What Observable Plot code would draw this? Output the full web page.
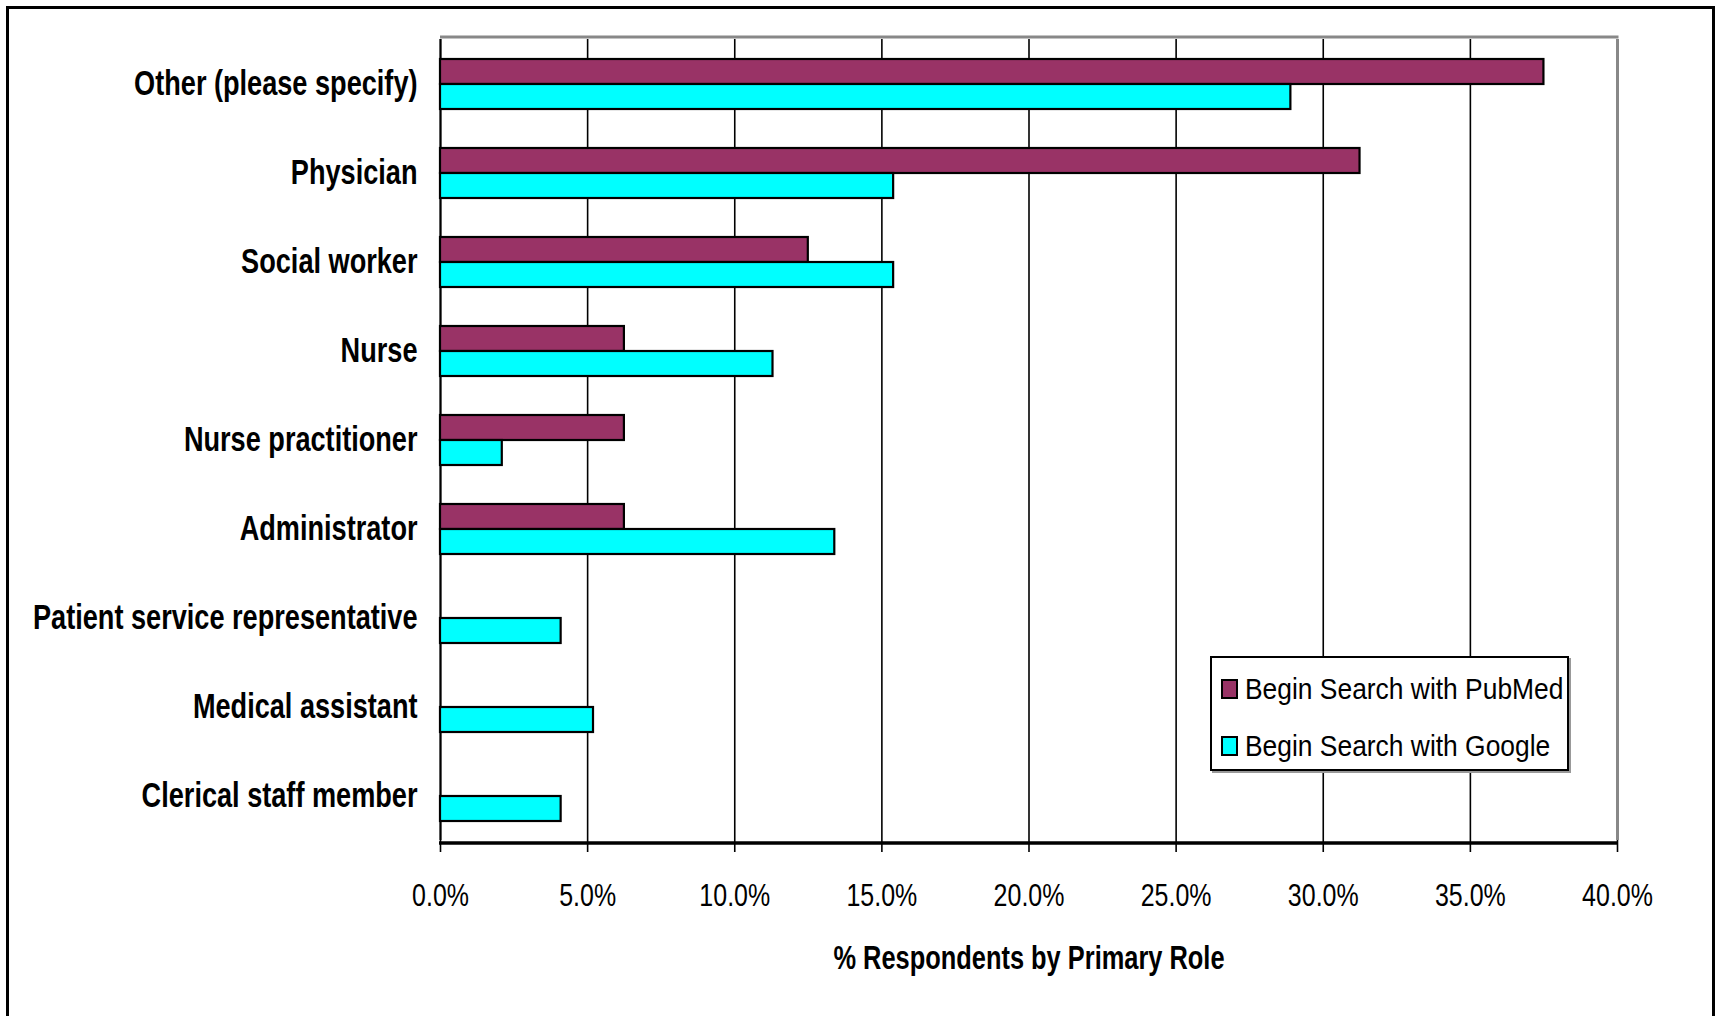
<!DOCTYPE html>
<html>
<head>
<meta charset="utf-8">
<script src="https://cdn.jsdelivr.net/npm/d3@7"></script>
<script src="https://cdn.jsdelivr.net/npm/@observablehq/plot@0.6"></script>
<style>
  html, body { margin: 0; padding: 0; background: #fff; overflow: hidden; }
  #wrap { position: relative; width: 1719px; height: 1016px; overflow: hidden;
          font-family: "Liberation Sans", Arial, sans-serif; }
  #outer { position: absolute; left: 6px; top: 6px; width: 1703px; height: 1100px; border: 3px solid #000; }
  #chart { position: absolute; left: 0; top: 0; }
  #xtitle { position: absolute; left: 440px; width: 1177px; top: 938px; text-align: center;
            line-height: 40px; }
  #xtitle span { display: inline-block; font-size: 33px; font-weight: bold; color: #000;
                 transform: scaleX(0.77); transform-origin: center; white-space: nowrap; }
  #legend { position: absolute; left: 1210px; top: 656px; width: 359px; height: 115px; box-sizing: border-box;
            border: 2px solid #000; background: #fff; box-shadow: 2px 2px 0 #999; }
  .lrow { position: absolute; left: 9px; height: 40px; display: flex; align-items: center; color: #000; white-space: nowrap; }
  .sw { width: 13px; height: 16px; border: 2px solid #000; margin-right: 7px; flex: none; }
  .lt { display: inline-block; font-size: 30px; transform: scaleX(0.88); transform-origin: left center; }
</style>
</head>
<body>
<div id="wrap">
  <div id="outer"></div>
  <div id="chart"></div>
  <div id="xtitle"></div>
  <div id="legend"></div>
</div>
<script>
const roles = [
  "Other (please specify)",
  "Physician",
  "Social worker",
  "Nurse",
  "Nurse practitioner",
  "Administrator",
  "Patient service representative",
  "Medical assistant",
  "Clerical staff member"
];
const series = ["Begin Search with PubMed", "Begin Search with Google"];
const pubmed = [37.5, 31.25, 12.5, 6.25, 6.25, 6.25, 0, 0, 0];
const google = [28.9, 15.4, 15.4, 11.3, 2.1, 13.4, 4.1, 5.2, 4.1];
const colors = ["#993366", "#00FFFF"];
const xTicks = [0, 5, 10, 15, 20, 25, 30, 35, 40];
const xTitle = "% Respondents by Primary Role";

const data = roles.flatMap((r, i) => [
  {role: r, series: series[0], value: pubmed[i]},
  {role: r, series: series[1], value: google[i]}
]).filter(d => d.value > 0);

const font = '"Liberation Sans", Arial, sans-serif';

const chart = Plot.plot({
  width: 1719,
  height: 1016,
  marginLeft: 440,
  marginRight: 102,
  marginTop: 35,
  marginBottom: 173,
  style: {fontFamily: font, background: "transparent", color: "#000", overflow: "visible"},
  x: {domain: [0, 40]},
  fy: {domain: roles, paddingInner: 0, paddingOuter: 0, label: null},
  y: {domain: series, paddingInner: 0, paddingOuter: 0.74, axis: null},
  color: {domain: series, range: colors},
  marks: [
    Plot.gridX(xTicks, {stroke: "#000", strokeOpacity: 1, strokeWidth: 1.6}),
    Plot.ruleX([40], {stroke: "#888", strokeWidth: 3}),
    Plot.ruleX([0], {stroke: "#000", strokeWidth: 2}),
    Plot.barX(data, {x: "value", y: "series", fy: "role", fill: "series", stroke: "#000", strokeWidth: 2.2}),
    Plot.axisX(xTicks, {
      anchor: "bottom", tickSize: 12, tickPadding: 31, strokeWidth: 1.6,
      tickFormat: d => d.toFixed(1) + "%", fontSize: 32, label: null
    }),
    Plot.axisFy({anchor: "left", tickSize: 0, tickPadding: 23, fontSize: 35, fontWeight: "bold", label: null})
  ]
});
document.getElementById("chart").appendChild(chart);

const svg = d3.select(chart);
// emulate the narrow typeface of the original by condensing glyphs horizontally
function condense(sel, k) {
  sel.each(function () {
    const len = this.getComputedTextLength();
    this.setAttribute("textLength", (len * k).toFixed(1));
    this.setAttribute("lengthAdjust", "spacingAndGlyphs");
  });
}
condense(svg.selectAll('g[aria-label="fy-axis tick label"] text'), 0.775);
condense(svg.selectAll('g[aria-label="x-axis tick label"] text'), 0.78);

// top (gray) and bottom (black axis) border lines, positioned from the plot's scales
const sx = chart.scale("x"), sfy = chart.scale("fy");
const x0 = sx.apply(0), x1 = sx.apply(40);
const yTop = Math.min(...sfy.range) + 2, yBot = Math.max(...sfy.range);
svg.append("rect").attr("x", x0 - 1).attr("y", Math.min(...sfy.range) - 2).attr("width", x1 - x0 + 3).attr("height", 3.5)
  .attr("fill", "#fff");
svg.append("line").attr("x1", x0).attr("x2", x1 + 1.5).attr("y1", yTop).attr("y2", yTop)
  .attr("stroke", "#888").attr("stroke-width", 3);
svg.append("line").attr("x1", x0 - 1).attr("x2", x1 + 1).attr("y1", yBot).attr("y2", yBot)
  .attr("stroke", "#000").attr("stroke-width", 3.5);

const tspan = document.createElement("span");
tspan.textContent = xTitle;
document.getElementById("xtitle").appendChild(tspan);

const legend = document.getElementById("legend");
series.forEach((s, i) => {
  const row = document.createElement("div");
  row.className = "lrow";
  row.style.top = (11 + i * 57) + "px";
  const sw = document.createElement("div");
  sw.className = "sw";
  sw.style.background = colors[i];
  const t = document.createElement("span");
  t.className = "lt";
  t.textContent = s;
  row.appendChild(sw);
  row.appendChild(t);
  legend.appendChild(row);
});
</script>
</body>
</html>
